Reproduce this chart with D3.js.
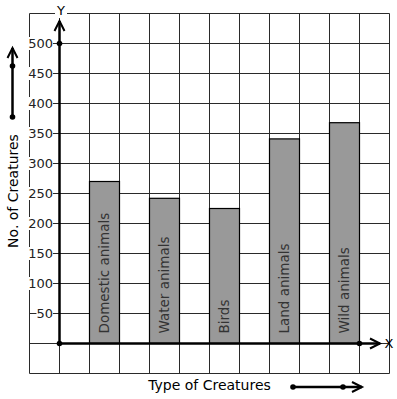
<!DOCTYPE html>
<html>
<head>
<meta charset="utf-8">
<script src="https://cdn.jsdelivr.net/npm/d3@7"></script>
<style>
  body { margin: 0; background: #fff; }
  text { font-family: "DejaVu Sans", Verdana, sans-serif; }
</style>
</head>
<body>
<script>
const categories = ["Domestic animals", "Water animals", "Birds", "Land animals", "Wild animals"];
const counts = [270, 242, 225, 341, 368];
const yTicks = [50, 100, 150, 200, 250, 300, 350, 400, 450, 500];

const width = 397, height = 399;

const svg = d3.select("body").append("svg")
    .attr("width", width)
    .attr("height", height);

// grid: 12 x 12 squares of 30px
const gx = d3.scaleLinear().domain([0, 12]).range([29.5, 389.5]);
const y = d3.scaleLinear().domain([-50, 550]).range([373.5, 13.5]);
const x = d3.scaleBand().domain(categories).range([89.5, 359.5]).paddingInner(0.5).paddingOuter(0);

const grid = svg.append("g").attr("stroke", "#2a2a2a").attr("stroke-width", 1);
grid.selectAll(".h")
    .data(d3.range(-50, 551, 50))
    .join("line")
    .attr("x1", gx(0)).attr("x2", gx(12))
    .attr("y1", d => y(d)).attr("y2", d => y(d));
grid.selectAll(".v")
    .data(d3.range(0, 13))
    .join("line")
    .attr("x1", d => gx(d)).attr("x2", d => gx(d))
    .attr("y1", y(550)).attr("y2", y(-50));

// bars
svg.selectAll(".bar")
    .data(categories)
    .join("rect")
    .attr("class", "bar")
    .attr("x", d => x(d))
    .attr("y", (d, i) => y(counts[i]))
    .attr("width", x.bandwidth())
    .attr("height", (d, i) => y(0) - y(counts[i]))
    .attr("fill", "#999999")
    .attr("stroke", "#000")
    .attr("stroke-width", 1.2);

svg.selectAll(".blabel")
    .data(categories)
    .join("text")
    .attr("transform", d => "translate(" + (x(d) + x.bandwidth() / 2 - 1) + "," + (y(0) - 10) + ") rotate(-90)")
    .attr("dominant-baseline", "central")
    .style("font-size", "13.5px")
    .style("fill", "#333")
    .text(d => d);

// tick labels with white backing
const tl = svg.append("g");
yTicks.forEach(t => {
  const g = tl.append("g");
  const txt = g.append("text")
      .attr("x", 53).attr("y", y(t))
      .attr("text-anchor", "end")
      .attr("dominant-baseline", "central")
      .style("font-size", "13px")
      .style("fill", "#222")
      .text(t);
  const bb = txt.node().getBBox();
  g.insert("rect", "text")
      .attr("x", bb.x).attr("y", bb.y + 1)
      .attr("width", bb.width).attr("height", bb.height - 2)
      .attr("fill", "#fff");
});

// axes
const axes = svg.append("g").attr("stroke", "#000").attr("stroke-width", 2.5).attr("fill", "none");
const x0 = gx(1), y0 = y(0);
axes.append("line").attr("x1", x0).attr("x2", x0).attr("y1", y0).attr("y2", 21);
axes.append("path").attr("d", `M${x0 - 5},31 L${x0},21 L${x0 + 5},31`).attr("stroke-width", 2);
axes.append("line").attr("x1", x0).attr("x2", 380).attr("y1", y0).attr("y2", y0);
axes.append("path").attr("d", `M370,${y0 - 5} L380,${y0} L370,${y0 + 5}`).attr("stroke-width", 2);

svg.selectAll(".dot")
    .data([[x0, y(500)], [x0, y0], [gx(11), y0]])
    .join("circle")
    .attr("cx", d => d[0]).attr("cy", d => d[1]).attr("r", 2.8).attr("fill", "#000");

// axis letters
const yl = svg.append("g");
yl.append("rect").attr("x", 55).attr("y", 3).attr("width", 12).attr("height", 15).attr("fill", "#fff");
yl.append("text").attr("x", 61).attr("y", 10).attr("text-anchor", "middle")
    .attr("dominant-baseline", "central").style("font-size", "13px").text("Y");
svg.append("text").attr("x", 389).attr("y", y0).attr("text-anchor", "middle")
    .attr("dominant-baseline", "central").style("font-size", "13px").text("X");

// titles
svg.append("text")
    .attr("transform", "translate(13,191) rotate(-90)")
    .attr("text-anchor", "middle")
    .attr("dominant-baseline", "central")
    .style("font-size", "14px")
    .text("No. of Creatures");
svg.append("text")
    .attr("x", 209.5).attr("y", 385)
    .attr("text-anchor", "middle")
    .attr("dominant-baseline", "central")
    .style("font-size", "14px")
    .text("Type of Creatures");

// decorative arrows next to titles
const deco = svg.append("g").attr("stroke", "#000").attr("stroke-width", 2.5).attr("fill", "none");
deco.append("line").attr("x1", 12.5).attr("x2", 12.5).attr("y1", 117).attr("y2", 48);
deco.append("path").attr("d", "M7.5,58 L12.5,48 L17.5,58").attr("stroke-width", 2);
deco.append("line").attr("x1", 293).attr("x2", 362).attr("y1", 387).attr("y2", 387);
deco.append("path").attr("d", "M352,382 L362,387 L352,392").attr("stroke-width", 2);
svg.selectAll(".ddot")
    .data([[12.5, 66], [12.5, 117], [293, 387], [343, 387]])
    .join("circle")
    .attr("cx", d => d[0]).attr("cy", d => d[1]).attr("r", 2.8).attr("fill", "#000");
</script>
</body>
</html>
